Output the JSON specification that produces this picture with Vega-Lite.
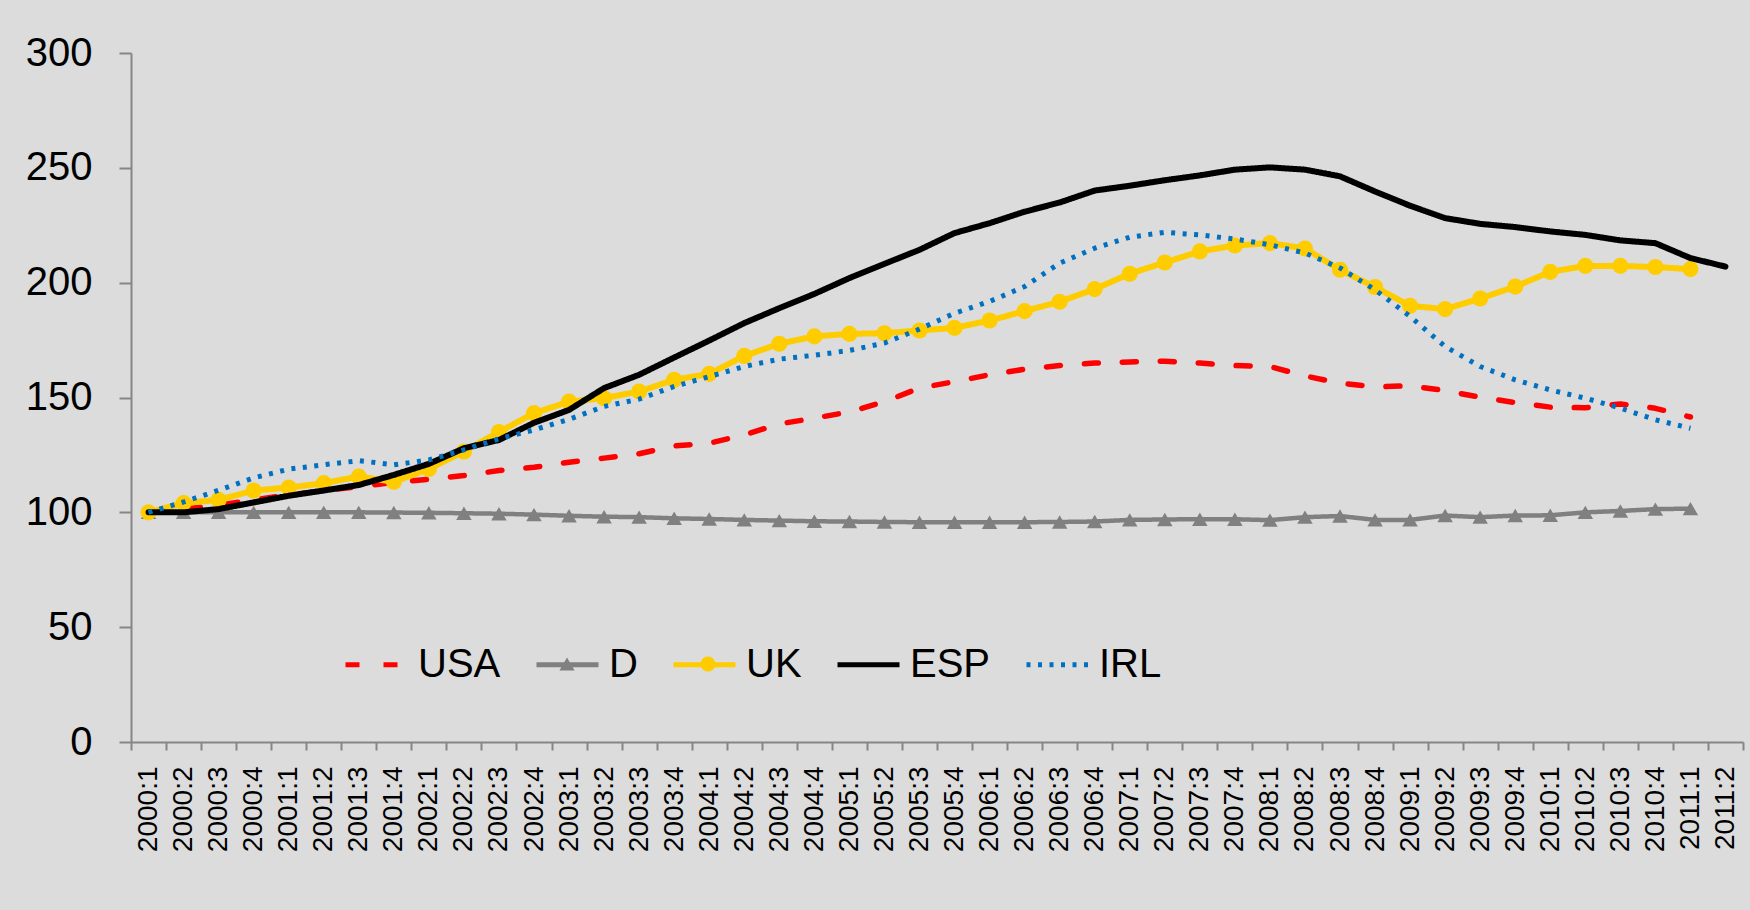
{
  "$schema": "https://vega.github.io/schema/vega-lite/v6.json",
  "width": 1612,
  "height": 689,
  "autosize": "none",
  "padding": {"left": 131, "top": 53, "right": 7, "bottom": 168},
  "background": "#DCDCDC",
  "config": {
    "font": "Liberation Sans",
    "view": {"stroke": null},
    "axis": {"labelColor": "#000000", "domainColor": "#868686", "tickColor": "#868686", "domainWidth": 2, "tickWidth": 2, "grid": false, "title": null},
    "line": {"strokeCap": "round", "strokeJoin": "round", "strokeWidth": 5},
    "legend": {"title": null, "orient": "none", "direction": "horizontal", "padding": 0, "labelFontSize": 40, "labelColor": "#000000"}
  },
  "data": {
    "values": [
      {"q":"2000:1","USA":100,"D":100,"UK":100,"ESP":100,"IRL":100},
      {"q":"2000:2","USA":101.5,"D":100,"UK":104,"ESP":100,"IRL":104.5},
      {"q":"2000:3","USA":103,"D":100,"UK":105.4,"ESP":101.4,"IRL":109.6},
      {"q":"2000:4","USA":105.5,"D":100,"UK":109.5,"ESP":104.3,"IRL":115},
      {"q":"2001:1","USA":107.5,"D":100,"UK":110.8,"ESP":107.2,"IRL":118.8},
      {"q":"2001:2","USA":109.5,"D":100,"UK":112.7,"ESP":109.5,"IRL":120.7},
      {"q":"2001:3","USA":111.2,"D":100,"UK":115.6,"ESP":111.9,"IRL":122.5},
      {"q":"2001:4","USA":113,"D":99.9,"UK":113.3,"ESP":116.3,"IRL":120.7},
      {"q":"2002:1","USA":114.4,"D":99.8,"UK":118.9,"ESP":121.1,"IRL":122.8},
      {"q":"2002:2","USA":116,"D":99.6,"UK":126.5,"ESP":127.9,"IRL":127.2},
      {"q":"2002:3","USA":118.2,"D":99.4,"UK":135,"ESP":131.5,"IRL":132},
      {"q":"2002:4","USA":119.6,"D":99,"UK":143.2,"ESP":139,"IRL":135.9},
      {"q":"2003:1","USA":121.8,"D":98.5,"UK":148.2,"ESP":144.6,"IRL":140.5},
      {"q":"2003:2","USA":123.6,"D":98.1,"UK":149.7,"ESP":154.1,"IRL":146.1},
      {"q":"2003:3","USA":125.5,"D":97.9,"UK":152.6,"ESP":159.9,"IRL":149.3},
      {"q":"2003:4","USA":128.9,"D":97.4,"UK":157.7,"ESP":167.4,"IRL":154.8},
      {"q":"2004:1","USA":130.1,"D":97.1,"UK":160.3,"ESP":174.8,"IRL":159.1},
      {"q":"2004:2","USA":133.7,"D":96.7,"UK":168.1,"ESP":182.4,"IRL":163.5},
      {"q":"2004:3","USA":138.5,"D":96.4,"UK":173.4,"ESP":188.9,"IRL":166.7},
      {"q":"2004:4","USA":141,"D":96.1,"UK":176.6,"ESP":195.1,"IRL":168.4},
      {"q":"2005:1","USA":143.7,"D":96,"UK":177.7,"ESP":202,"IRL":170.5},
      {"q":"2005:2","USA":148.2,"D":95.8,"UK":178,"ESP":208.2,"IRL":173.7},
      {"q":"2005:3","USA":154.1,"D":95.7,"UK":179.2,"ESP":214.3,"IRL":179.8},
      {"q":"2005:4","USA":156.9,"D":95.7,"UK":180.3,"ESP":221.6,"IRL":186.7},
      {"q":"2006:1","USA":159.9,"D":95.7,"UK":183.5,"ESP":225.9,"IRL":191.8},
      {"q":"2006:2","USA":162.3,"D":95.7,"UK":187.6,"ESP":230.9,"IRL":198.3},
      {"q":"2006:3","USA":163.9,"D":95.8,"UK":191.7,"ESP":234.9,"IRL":208.5},
      {"q":"2006:4","USA":165,"D":96,"UK":197.2,"ESP":240.1,"IRL":215},
      {"q":"2007:1","USA":165.5,"D":96.7,"UK":203.9,"ESP":242.2,"IRL":219.8},
      {"q":"2007:2","USA":165.8,"D":96.9,"UK":208.8,"ESP":244.6,"IRL":221.9},
      {"q":"2007:3","USA":165,"D":97,"UK":213.6,"ESP":246.7,"IRL":220.8},
      {"q":"2007:4","USA":163.9,"D":97,"UK":216.2,"ESP":249.2,"IRL":219},
      {"q":"2008:1","USA":163.5,"D":96.6,"UK":217.2,"ESP":250.2,"IRL":216.5},
      {"q":"2008:2","USA":159.4,"D":97.9,"UK":214.9,"ESP":249.2,"IRL":212.9},
      {"q":"2008:3","USA":156.2,"D":98.4,"UK":205.6,"ESP":246.3,"IRL":206.4},
      {"q":"2008:4","USA":154.6,"D":96.7,"UK":198.1,"ESP":239.7,"IRL":196.9},
      {"q":"2009:1","USA":155.1,"D":96.7,"UK":189.9,"ESP":233.5,"IRL":185.3},
      {"q":"2009:2","USA":153,"D":98.6,"UK":188.5,"ESP":228.1,"IRL":172.2},
      {"q":"2009:3","USA":150.1,"D":97.9,"UK":193.1,"ESP":225.6,"IRL":163.5},
      {"q":"2009:4","USA":147.8,"D":98.6,"UK":198.3,"ESP":224.2,"IRL":157.7},
      {"q":"2010:1","USA":145.8,"D":98.7,"UK":204.7,"ESP":222.3,"IRL":153.3},
      {"q":"2010:2","USA":145.5,"D":100,"UK":207.3,"ESP":220.8,"IRL":149.7},
      {"q":"2010:3","USA":147.2,"D":100.6,"UK":207.3,"ESP":218.4,"IRL":145.4},
      {"q":"2010:4","USA":145.3,"D":101.4,"UK":206.8,"ESP":217.2,"IRL":140.3},
      {"q":"2011:1","USA":141.5,"D":101.6,"UK":205.9,"ESP":210.7,"IRL":136.6},
      {"q":"2011:2","ESP":207}
    ]
  },
  "transform": [
    {"fold": ["USA", "D", "UK", "ESP", "IRL"], "as": ["s", "v"]},
    {"filter": "isValid(datum.v)"}
  ],
  "encoding": {
    "x": {
      "field": "q", "type": "ordinal", "bandPosition": 0.5,
      "scale": {"type": "band", "paddingInner": 0, "paddingOuter": 0},
      "axis": {"labelAngle": -90, "labelFontSize": 28, "tickSize": 8, "tickBand": "extent", "labelPadding": 16}
    },
    "y": {
      "field": "v", "type": "quantitative",
      "scale": {"domain": [0, 300], "nice": false, "zero": true},
      "axis": {"values": [0, 50, 100, 150, 200, 250, 300], "labelFontSize": 40, "tickSize": 12, "labelPadding": 27}
    }
  },
  "layer": [
    {
      "transform": [{"filter": {"field": "s", "equal": "USA"}}],
      "mark": {"type": "line", "strokeWidth": 5.5},
      "encoding": {
        "color": {"field": "s", "type": "nominal",
          "scale": {"domain": ["USA", "D", "UK", "ESP", "IRL"], "range": ["#FF0000", "#808080", "#FFCC00", "#000000", "#0070C0"]},
          "legend": {"legendX": 212, "legendY": 578, "symbolType": "stroke", "symbolSize": 3844, "symbolStrokeWidth": 6, "labelOffset": 8, "columnPadding": 33}},
        "strokeDash": {"field": "s", "type": "nominal",
          "scale": {"domain": ["USA", "D", "UK", "ESP", "IRL"], "range": [[14, 24], [1, 0], [1, 0], [1, 0], [4, 7.5]]}},
        "order": {"field": "q"}
      }
    },
    {
      "transform": [{"filter": {"field": "s", "equal": "D"}}],
      "mark": {"type": "line", "strokeWidth": 4.5},
      "encoding": {
        "color": {"field": "s", "type": "nominal",
          "scale": {"domain": ["USA", "D", "UK", "ESP", "IRL"], "range": ["#FF0000", "#808080", "#FFCC00", "#000000", "#0070C0"]}},
        "strokeDash": {"field": "s", "type": "nominal",
          "scale": {"domain": ["USA", "D", "UK", "ESP", "IRL"], "range": [[14, 24], [1, 0], [1, 0], [1, 0], [4, 7.5]]}},
        "order": {"field": "q"}
      }
    },
    {
      "transform": [{"filter": {"field": "s", "equal": "D"}}],
      "mark": {"type": "point", "filled": true, "opacity": 1, "strokeWidth": 0, "size": 240},
      "encoding": {
        "shape": {"field": "s", "type": "nominal",
          "scale": {"domain": ["D", "UK"], "range": ["triangle-up", "circle"]},
          "legend": {"legendX": 416, "legendY": 591, "symbolSize": 230, "labelExpr": "''", "labelOffset": 0, "columnPadding": 101, "symbolStrokeWidth": 0}},
        "fill": {"field": "s", "type": "nominal",
          "scale": {"domain": ["D", "UK"], "range": ["#808080", "#FFCC00"]}}
      }
    },
    {
      "transform": [{"filter": {"field": "s", "equal": "UK"}}],
      "mark": {"type": "line", "strokeWidth": 6},
      "encoding": {
        "color": {"field": "s", "type": "nominal",
          "scale": {"domain": ["USA", "D", "UK", "ESP", "IRL"], "range": ["#FF0000", "#808080", "#FFCC00", "#000000", "#0070C0"]}},
        "strokeDash": {"field": "s", "type": "nominal",
          "scale": {"domain": ["USA", "D", "UK", "ESP", "IRL"], "range": [[14, 24], [1, 0], [1, 0], [1, 0], [4, 7.5]]}},
        "order": {"field": "q"}
      }
    },
    {
      "transform": [{"filter": {"field": "s", "equal": "UK"}}],
      "mark": {"type": "point", "filled": true, "opacity": 1, "strokeWidth": 0, "size": 260},
      "encoding": {
        "shape": {"field": "s", "type": "nominal",
          "scale": {"domain": ["D", "UK"], "range": ["triangle-up", "circle"]}},
        "fill": {"field": "s", "type": "nominal",
          "scale": {"domain": ["D", "UK"], "range": ["#808080", "#FFCC00"]}}
      }
    },
    {
      "transform": [{"filter": {"field": "s", "equal": "ESP"}}],
      "mark": {"type": "line", "strokeWidth": 6},
      "encoding": {
        "color": {"field": "s", "type": "nominal",
          "scale": {"domain": ["USA", "D", "UK", "ESP", "IRL"], "range": ["#FF0000", "#808080", "#FFCC00", "#000000", "#0070C0"]}},
        "strokeDash": {"field": "s", "type": "nominal",
          "scale": {"domain": ["USA", "D", "UK", "ESP", "IRL"], "range": [[14, 24], [1, 0], [1, 0], [1, 0], [4, 7.5]]}},
        "order": {"field": "q"}
      }
    },
    {
      "transform": [{"filter": {"field": "s", "equal": "IRL"}}],
      "mark": {"type": "line", "strokeWidth": 5, "strokeCap": "butt"},
      "encoding": {
        "color": {"field": "s", "type": "nominal",
          "scale": {"domain": ["USA", "D", "UK", "ESP", "IRL"], "range": ["#FF0000", "#808080", "#FFCC00", "#000000", "#0070C0"]}},
        "strokeDash": {"field": "s", "type": "nominal",
          "scale": {"domain": ["USA", "D", "UK", "ESP", "IRL"], "range": [[14, 24], [1, 0], [1, 0], [1, 0], [4, 7.5]]}},
        "order": {"field": "q"}
      }
    }
  ]
}
